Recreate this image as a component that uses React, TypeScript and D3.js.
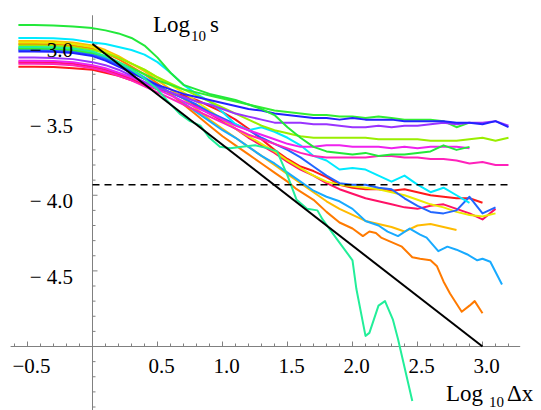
import { useEffect, useRef } from 'react'
import * as d3 from 'd3'

// Log10 Δx positions shared by most of the curves
const GRID_X = [-0.57, -0.45, -0.3, -0.15, 0, 0.1, 0.2, 0.3, 0.4, 0.5, 0.6, 0.7, 0.8, 0.9, 1.0, 1.1, 1.2, 1.3, 1.4, 1.5, 1.6, 1.7, 1.8, 1.9, 2.0, 2.1, 2.2, 2.3, 2.4, 2.5, 2.6, 2.7, 2.8, 2.9, 3.0, 3.1, 3.2]

// Log10 s values on GRID_X (curves stop where their data stops)
const greenTop = [-2.875, -2.875, -2.877, -2.885, -2.895, -2.91, -2.93, -2.96, -3.01, -3.09, -3.19, -3.27, -3.30, -3.33, -3.35, -3.37, -3.40, -3.43, -3.47, -3.55, -3.62, -3.68, -3.71, -3.72, -3.73, -3.72, -3.74, -3.73, -3.73, -3.72, -3.71, -3.67, -3.70, -3.68]
const greenFlat = [-3.03, -3.03, -3.032, -3.04, -3.06, -3.08, -3.12, -3.16, -3.20, -3.24, -3.27, -3.30, -3.32, -3.34, -3.36, -3.38, -3.40, -3.42, -3.44, -3.45, -3.46, -3.47, -3.47, -3.48, -3.48, -3.49, -3.48, -3.49, -3.50, -3.50, -3.50, -3.51, -3.55, -3.52]
const blue = [-3.05, -3.05, -3.052, -3.06, -3.08, -3.11, -3.15, -3.19, -3.23, -3.27, -3.30, -3.33, -3.35, -3.37, -3.39, -3.41, -3.43, -3.44, -3.46, -3.47, -3.48, -3.49, -3.49, -3.50, -3.49, -3.50, -3.50, -3.50, -3.51, -3.51, -3.51, -3.51, -3.52, -3.52, -3.53, -3.51, -3.55]
const purple = [-3.09, -3.09, -3.092, -3.10, -3.12, -3.14, -3.17, -3.21, -3.25, -3.29, -3.32, -3.35, -3.38, -3.40, -3.43, -3.46, -3.48, -3.50, -3.52, -3.52, -3.52, -3.53, -3.53, -3.54, -3.55, -3.55, -3.54, -3.55, -3.54, -3.54, -3.53, -3.52, -3.53, -3.52, -3.52, -3.51, -3.54]
const lime = [-3.01, -3.01, -3.012, -3.02, -3.04, -3.06, -3.09, -3.13, -3.17, -3.22, -3.26, -3.30, -3.34, -3.38, -3.42, -3.46, -3.50, -3.54, -3.57, -3.59, -3.61, -3.62, -3.62, -3.62, -3.62, -3.62, -3.63, -3.63, -3.63, -3.63, -3.64, -3.64, -3.64, -3.63, -3.62, -3.64, -3.62]
const magenta = [-3.11, -3.11, -3.112, -3.12, -3.14, -3.16, -3.19, -3.22, -3.26, -3.30, -3.34, -3.38, -3.42, -3.46, -3.50, -3.54, -3.57, -3.60, -3.63, -3.66, -3.68, -3.68, -3.67, -3.67, -3.68, -3.68, -3.68, -3.69, -3.68, -3.69, -3.68, -3.68, -3.68, -3.69]
const pink = [-3.13, -3.13, -3.132, -3.14, -3.16, -3.18, -3.21, -3.24, -3.28, -3.32, -3.36, -3.40, -3.44, -3.48, -3.52, -3.56, -3.60, -3.63, -3.66, -3.69, -3.72, -3.74, -3.75, -3.75, -3.75, -3.75, -3.74, -3.74, -3.75, -3.75, -3.76, -3.76, -3.77, -3.79, -3.78, -3.80, -3.80]
const cyan = [-2.96, -2.96, -2.962, -2.97, -2.99, -3.00, -3.02, -3.04, -3.07, -3.12, -3.19, -3.27, -3.33, -3.38, -3.45, -3.53, -3.57, -3.55, -3.58, -3.62, -3.67, -3.74, -3.77, -3.83, -3.82, -3.83, -3.87, -3.91, -3.87, -3.93, -3.98, -3.95, -4.00, -4.05]
const royalBlue = [-3.04, -3.04, -3.042, -3.05, -3.07, -3.10, -3.14, -3.18, -3.23, -3.28, -3.32, -3.36, -3.40, -3.45, -3.49, -3.53, -3.57, -3.62, -3.66, -3.70, -3.75, -3.81, -3.87, -3.92, -3.93, -3.93, -3.95, -3.96, -4.02, -4.07, -4.11, -4.12, -4.10, -4.01, -4.12, -4.08]
const yellow = [-2.99, -2.99, -2.992, -3.0, -3.02, -3.05, -3.09, -3.13, -3.17, -3.22, -3.27, -3.32, -3.38, -3.44, -3.50, -3.56, -3.61, -3.66, -3.71, -3.77, -3.82, -3.87, -3.91, -3.93, -3.94, -3.95, -3.96, -3.98, -4.00, -4.03, -4.06, -4.08, -4.11, -4.13, -4.14, -4.12]
const red = [-3.15, -3.15, -3.152, -3.16, -3.17, -3.19, -3.21, -3.24, -3.27, -3.30, -3.32, -3.34, -3.37, -3.41, -3.45, -3.50, -3.56, -3.63, -3.70, -3.76, -3.81, -3.84, -3.88, -3.93, -3.95, -3.96, -3.96, -3.97, -3.96, -3.98, -4.00, -4.01, -4.02, -4.02, -4.05]
const crimson = [-3.12, -3.12, -3.122, -3.13, -3.15, -3.17, -3.20, -3.23, -3.26, -3.29, -3.32, -3.36, -3.41, -3.46, -3.51, -3.56, -3.62, -3.67, -3.72, -3.78, -3.83, -3.87, -3.92, -3.96, -3.99, -4.02, -4.04, -4.06, -4.08, -4.09, -4.07, -4.06, -4.09, -4.12, -4.16, -4.09]
const amber = [-2.98, -2.98, -2.982, -2.99, -3.01, -3.04, -3.08, -3.13, -3.18, -3.24, -3.30, -3.36, -3.43, -3.50, -3.56, -3.62, -3.68, -3.74, -3.80, -3.86, -3.92, -3.98, -4.04, -4.09, -4.13, -4.17, -4.19, -4.21, -4.24, -4.20, -4.19, -4.21, -4.23]

// curves read point by point as [Log10 Δx, Log10 s]
const skyBlue: [number, number][] = [[-0.57, -3.03], [-0.45, -3.03], [-0.3, -3.032], [-0.15, -3.04], [0, -3.06], [0.1, -3.09], [0.2, -3.13], [0.3, -3.17], [0.4, -3.22], [0.5, -3.27], [0.6, -3.33], [0.7, -3.39], [0.8, -3.45], [0.9, -3.51], [1.0, -3.57], [1.1, -3.62], [1.2, -3.68], [1.3, -3.74], [1.4, -3.79], [1.5, -3.85], [1.6, -3.91], [1.7, -3.97], [1.8, -4.01], [1.9, -4.04], [2.0, -4.09], [2.1, -4.17], [2.2, -4.20], [2.27, -4.24], [2.35, -4.27], [2.44, -4.22], [2.52, -4.26], [2.57, -4.28], [2.66, -4.37], [2.73, -4.34], [2.8, -4.36], [2.88, -4.39], [2.96, -4.43], [3.0, -4.42], [3.06, -4.44], [3.15, -4.59]]
const orange: [number, number][] = [[-0.57, -3.0], [-0.45, -3.0], [-0.3, -3.002], [-0.15, -3.01], [0, -3.03], [0.1, -3.06], [0.2, -3.10], [0.3, -3.15], [0.4, -3.20], [0.5, -3.26], [0.6, -3.33], [0.7, -3.40], [0.8, -3.47], [0.9, -3.54], [1.0, -3.61], [1.1, -3.67], [1.2, -3.73], [1.3, -3.79], [1.4, -3.85], [1.5, -3.91], [1.57, -3.96], [1.7, -4.03], [1.8, -4.11], [1.9, -4.18], [2.0, -4.22], [2.08, -4.27], [2.13, -4.24], [2.18, -4.25], [2.22, -4.28], [2.3, -4.31], [2.38, -4.34], [2.46, -4.41], [2.52, -4.42], [2.6, -4.43], [2.65, -4.47], [2.7, -4.57], [2.75, -4.65], [2.84, -4.77], [2.9, -4.73], [2.94, -4.70], [3.0, -4.78]]
const aqua: [number, number][] = [[-0.57, -3.02], [-0.45, -3.02], [-0.3, -3.022], [-0.15, -3.03], [0, -3.05], [0.1, -3.08], [0.2, -3.12], [0.3, -3.17], [0.4, -3.23], [0.5, -3.30], [0.57, -3.37], [0.67, -3.46], [0.75, -3.51], [0.83, -3.54], [0.9, -3.62], [0.98, -3.68], [1.06, -3.69], [1.15, -3.68], [1.25, -3.67], [1.35, -3.69], [1.42, -3.71], [1.5, -3.87], [1.57, -4.03], [1.65, -4.09], [1.73, -4.10], [1.77, -4.16], [1.88, -4.29], [2.0, -4.43], [2.03, -4.62], [2.1, -4.93], [2.13, -4.91], [2.2, -4.73], [2.25, -4.70], [2.31, -4.82], [2.35, -4.95], [2.46, -5.36]]

// slope -2/3 reference and the horizontal threshold
const REF_LINE: [number, number][] = [[0, -3], [3, -5]]
const THRESHOLD = -3.93
const THRESHOLD_X = [0, 3.21]

const X_LABELS = [-0.5, 0.5, 1.0, 1.5, 2.0, 2.5, 3.0]
const Y_LABELS = [-3.0, -3.5, -4.0, -4.5]

const onGrid = (ys: number[]): [number, number][] => ys.map((y, i) => [GRID_X[i], y])

const SERIES: { color: string; points: [number, number][] }[] = [
  { color: '#ff1166', points: onGrid(crimson) },
  { color: '#ff1a1a', points: onGrid(red) },
  { color: '#ffbb00', points: onGrid(amber) },
  { color: '#18aaff', points: skyBlue },
  { color: '#ff7a00', points: orange },
  { color: '#eaea00', points: onGrid(yellow) },
  { color: '#2266ff', points: onGrid(royalBlue) },
  { color: '#00eaff', points: onGrid(cyan) },
  { color: '#ff22bb', points: onGrid(pink) },
  { color: '#ee22ee', points: onGrid(magenta) },
  { color: '#99ee00', points: onGrid(lime) },
  { color: '#33ee33', points: onGrid(greenFlat) },
  { color: '#9933ff', points: onGrid(purple) },
  { color: '#2222ff', points: onGrid(blue) },
  { color: '#22e83a', points: onGrid(greenTop) },
  { color: '#22ee99', points: aqua },
]

const W = 541
const H = 410

function App() {
  const svgRef = useRef<SVGSVGElement | null>(null)

  useEffect(() => {
    if (!svgRef.current) return
    const svg = d3.select(svgRef.current)
    svg.selectAll('*').remove()

    // axes cross at (0, -5)
    const x = d3.scaleLinear().domain([0, 3]).range([92.5, 482.5])
    const y = d3.scaleLinear().domain([-3, -5]).range([44, 346.5])

    const line = d3.line<[number, number]>()
      .x(d => x(d[0]))
      .y(d => y(d[1]))

    const axisColor = '#808080'
    const font = '"Liberation Serif", "Times New Roman", serif'

    // axes
    const axes = svg.append('g').attr('stroke', axisColor).attr('stroke-width', 1)
    axes.append('line')
      .attr('x1', x(-0.63)).attr('x2', x(3.29))
      .attr('y1', y(-5)).attr('y2', y(-5))
    axes.append('line')
      .attr('x1', x(0)).attr('x2', x(0))
      .attr('y1', y(-2.81)).attr('y2', H)

    // minor / major ticks every 0.1
    d3.range(-6, 33).forEach(k => {
      if (k === 0) return
      const v = k / 10
      const len = k % 5 === 0 ? 5 : 3
      axes.append('line')
        .attr('x1', x(v)).attr('x2', x(v))
        .attr('y1', y(-5)).attr('y2', y(-5) - len)
    })
    d3.range(29, 55).forEach(k => {
      if (k === 50) return
      const v = -k / 10
      const len = k % 5 === 0 ? 5 : 3
      axes.append('line')
        .attr('x1', x(0)).attr('x2', x(0) + len)
        .attr('y1', y(v)).attr('y2', y(v))
    })

    // curves
    svg.append('g')
      .selectAll('path')
      .data(SERIES)
      .enter()
      .append('path')
      .attr('d', d => line(d.points))
      .attr('fill', 'none')
      .attr('stroke', d => d.color)
      .attr('stroke-width', 2)
      .attr('stroke-linejoin', 'round')

    // reference line and threshold
    svg.append('path')
      .attr('d', line(REF_LINE))
      .attr('fill', 'none')
      .attr('stroke', '#000')
      .attr('stroke-width', 2)

    svg.append('line')
      .attr('x1', x(THRESHOLD_X[0])).attr('x2', x(THRESHOLD_X[1]))
      .attr('y1', y(THRESHOLD)).attr('y2', y(THRESHOLD))
      .attr('stroke', '#000')
      .attr('stroke-width', 1.5)
      .attr('stroke-dasharray', '7,5')

    // tick labels (drawn over the curves)
    svg.append('g')
      .selectAll('text')
      .data(X_LABELS)
      .enter()
      .append('text')
      .attr('x', d => x(d) + 4)
      .attr('y', y(-5) + 26)
      .attr('text-anchor', 'middle')
      .style('font-family', font)
      .style('font-size', '21px')
      .text(d => (d < 0 ? '\u2212' : '') + Math.abs(d).toFixed(1))

    svg.append('g')
      .selectAll('text')
      .data(Y_LABELS)
      .enter()
      .append('text')
      .attr('x', 73)
      .attr('y', d => y(d) + 13)
      .attr('text-anchor', 'end')
      .style('font-family', font)
      .style('font-size', '21px')
      .text(d => '\u2212 ' + Math.abs(d).toFixed(1))

    // axis titles
    const yTitle = svg.append('text')
      .attr('x', 153).attr('y', 32)
      .style('font-family', font)
      .style('font-size', '23px')
    yTitle.append('tspan').text('Log')
    yTitle.append('tspan').attr('dy', 9).attr('dx', 1).style('font-size', '15px').text('10')
    yTitle.append('tspan').attr('dy', -9).attr('dx', 4).text('s')

    const xTitle = svg.append('text')
      .attr('x', 446).attr('y', 401)
      .style('font-family', font)
      .style('font-size', '23px')
    xTitle.append('tspan').text('Log')
    xTitle.append('tspan').attr('dy', 6).attr('dx', 6).style('font-size', '15px').text('10')
    xTitle.append('tspan').attr('dy', -6).attr('dx', 3).text('\u0394x')
  }, [])

  return (
    <svg
      ref={svgRef}
      width={W}
      height={H}
      style={{ position: 'absolute', left: 0, top: 0, background: '#fff' }}
    />
  )
}

export default App
